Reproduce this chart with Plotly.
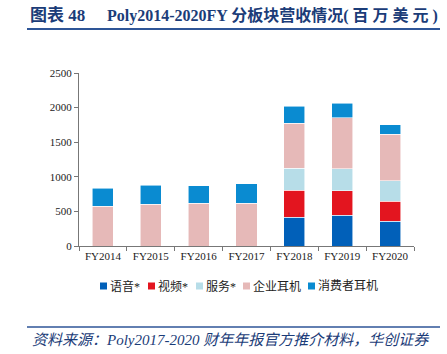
import plotly.graph_objects as go

years = ["FY2014", "FY2015", "FY2016", "FY2017", "FY2018", "FY2019", "FY2020"]
voice = [None, None, None, None, 419, 443, 361]
video = [None, None, None, None, 390, 352, 289]
services = [None, None, None, None, 314, 318, 294]
enterprise = [578, 607, 617, 617, 650, 737, 674]
consumer = [260, 274, 254, 283, 250, 212, 135]

names = ["语音*", "视频*", "服务*", "企业耳机", "消费者耳机"]
colors = ["#0160B9", "#E3151F", "#B7DDE8", "#E6B9B8", "#0A8BD1"]
series = [voice, video, services, enterprise, consumer]

serif = "Liberation Serif, Times New Roman, serif"
cjk = "Liberation Serif, Noto Sans CJK SC, serif"

W, H = 447, 354
L, R, T, B = 79, 414, 73, 246


def px(x):
    return (x - L) / (R - L)


def py(y):
    return (B - y) / (B - T)


fig = go.Figure()
for n, c, s in zip(names, colors, series):
    fig.add_trace(go.Bar(x=years, y=s, name=n, showlegend=False,
                         marker=dict(color=c, line=dict(color="rgba(255,255,255,0.7)", width=0.8))))

fig.update_layout(
    barmode="stack",
    width=W, height=H,
    margin=dict(l=L, r=W - R, t=T, b=H - B, autoexpand=False),
    paper_bgcolor="white", plot_bgcolor="white",
    bargap=0.56,
    showlegend=False,
    font=dict(family=serif, size=11, color="#222"),
)
fig.update_yaxes(range=[0, 2500], dtick=500, showgrid=False, showline=True, linecolor="#777", linewidth=1,
                 ticks="outside", ticklen=4, tickcolor="#777", tickfont=dict(family=serif, size=11, color="#222"),
                 zeroline=False, automargin=False)
fig.update_xaxes(showline=True, linecolor="#777", linewidth=1, ticks="outside", ticklen=4, tickcolor="#777",
                 tickson="boundaries", tickfont=dict(family=serif, size=11, color="#222"), automargin=False)

# manual legend
leg_x = [100, 148, 196, 243, 308]
leg_y = 286
for n, c, x in zip(names, colors, leg_x):
    fig.add_shape(type="rect", xref="paper", yref="paper", x0=px(x), x1=px(x + 7),
                  y0=py(leg_y + 3.5), y1=py(leg_y - 3.5), fillcolor=c, line=dict(width=0))
    fig.add_annotation(text=n, xref="paper", yref="paper", x=px(x + 8), y=py(leg_y), xanchor="left",
                       yanchor="middle", showarrow=False, font=dict(family=cjk, size=12, color="#222"))

# title
fig.add_annotation(text="<b>图表 48</b>", xref="paper", yref="paper",
                   x=px(28), y=py(15), xanchor="left", yanchor="middle", showarrow=False,
                   font=dict(family=cjk, size=17, color="#1B3C78"))
fig.add_annotation(text="<b>Poly2014-2020FY 分板块营收情况( 百 万 美 元 )</b>", xref="paper", yref="paper",
                   x=px(440), y=py(15), xanchor="right", yanchor="middle", showarrow=False,
                   font=dict(family=cjk, size=16, color="#1B3C78"))
fig.add_shape(type="line", xref="paper", yref="paper", x0=px(27), x1=px(440),
              y0=py(29), y1=py(29), line=dict(color="#2E5597", width=2))
# footer
fig.add_shape(type="line", xref="paper", yref="paper", x0=px(27), x1=px(440),
              y0=py(327), y1=py(327), line=dict(color="#2E5597", width=1.5))
fig.add_annotation(text="<i>资料来源：Poly2017-2020 财年年报官方推介材料，华创证券</i>", xref="paper", yref="paper",
                   x=px(30), y=py(340), xanchor="left", yanchor="middle", showarrow=False,
                   font=dict(family=cjk, size=15, color="#1B3C78"))

fig.write_html("out.html")
